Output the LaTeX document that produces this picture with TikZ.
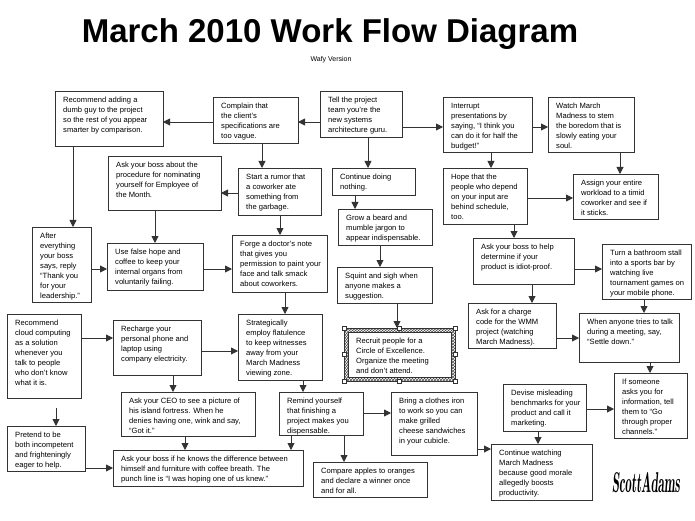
\documentclass[tikz,border=0pt]{standalone}
\usepackage{fontspec}
\setmainfont{Liberation Sans}
\usetikzlibrary{arrows.meta,patterns}
\tikzset{
  box/.style={draw=black!80, line width=0.8pt, fill=white, inner sep=0pt, outer sep=0pt, rectangle},
  txt/.style={anchor=north west, align=left, inner sep=0pt, font=\fontsize{7.6}{10}\selectfont},
  arr/.style={draw=black!80, line width=0.9pt, -{Triangle[length=7pt,width=7pt]}},
  handle/.style={fill=white, draw=black!80, line width=0.4pt}
}
\newcommand\bx[6]{%
  \node[box, minimum width=#4pt, minimum height=#5pt, anchor=north west] (#1) at (#2,#3) {};
  \node[txt] (#1t) at ([xshift=8pt,yshift=-6pt]#1.north west) {#6};}
\begin{document}
\begin{tikzpicture}[x=1pt,y=-1pt]
\fill[white] (0,0) rectangle (695,521);
\useasboundingbox (0,0) rectangle (695,521);
\node[anchor=base, font=\fontsize{33}{40}\selectfont\bfseries] (title) at (330,43) {March 2010 Work Flow Diagram};
\node[anchor=base, font=\fontsize{7}{8}\selectfont] (sub) at (331,62) {Wafy Version};
% row 1
\bx{A}{55}{91}{108}{55}{Recommend adding a\\dumb guy to the project\\so the rest of you appear\\smarter by comparison.}
\bx{C}{213}{97}{85}{46}{Complain that\\the client’s\\specifications are\\too vague.}
\bx{D}{320}{91}{82}{46}{Tell the project\\team you’re the\\new systems\\architecture guru.}
\bx{H}{443}{97}{89}{55}{Interrupt\\presentations by\\saying, “I think you\\can do it for half the\\budget!”}
\bx{I}{548}{97}{86}{55}{Watch March\\Madness to stem\\the boredom that is\\slowly eating your\\soul.}
% row 2
\bx{B}{108}{156}{113}{54}{Ask your boss about the\\procedure for nominating\\yourself for Employee of\\the Month.}
\bx{E}{238}{168}{83}{47}{Start a rumor that\\a coworker ate\\something from\\the garbage.}
\bx{F}{332}{168}{83}{27}{Continue doing\\nothing.}
\bx{G}{338}{209}{94}{36}{Grow a beard and\\mumble jargon to\\appear indispensable.}
\bx{J}{443}{168}{84}{56}{Hope that the\\people who depend\\on your input are\\behind schedule,\\too.}
\bx{K}{573}{174}{85}{45}{Assign your entire\\workload to a timid\\coworker and see if\\it sticks.}
% row 3
\bx{L}{32}{227}{59}{75}{After\\everything\\your boss\\says, reply\\“Thank you\\for your\\leadership.”}
\bx{M}{107}{243}{96}{47}{Use false hope and\\coffee to keep your\\internal organs from\\voluntarily failing.}
\bx{P}{232}{235}{95}{57}{Forge a doctor’s note\\that gives you\\permission to paint your\\face and talk smack\\about coworkers.}
\bx{Q}{337}{267}{95}{36}{Squint and sigh when\\anyone makes a\\suggestion.}
\bx{T}{473}{238}{101}{46}{Ask your boss to help\\determine if your\\product is idiot-proof.}
\bx{U}{602}{244}{89}{55}{Turn a bathroom stall\\into a sports bar by\\watching live\\tournament games on\\your mobile phone.}
% row 4
\bx{N}{7}{314}{74}{84}{Recommend\\cloud computing\\as a solution\\whenever you\\talk to people\\who don’t know\\what it is.}
\bx{O}{113}{320}{88}{55}{Recharge your\\personal phone and\\laptop using\\company electricity.}
\bx{S}{238}{314}{84}{66}{Strategically\\employ flatulence\\to keep witnesses\\away from your\\March Madness\\viewing zone.}
\node[box, draw=none, minimum width=111pt, minimum height=53pt, anchor=north west] (R) at (344,328) {};
\fill[pattern=crosshatch, pattern color=black!70, even odd rule] (R.north west) rectangle (R.south east) ([xshift=4pt,yshift=-4pt]R.north west) rectangle ([xshift=-4pt,yshift=4pt]R.south east);
\draw[black!80, line width=0.5pt] (R.north west) rectangle (R.south east);
\draw[black!80, line width=0.5pt] ([xshift=4pt,yshift=-4pt]R.north west) rectangle ([xshift=-4pt,yshift=4pt]R.south east);
\foreach \a in {north west,north,north east,east,south east,south,south west,west}
  \filldraw[handle] (R.\a) +(-2pt,-2pt) rectangle +(2pt,2pt);
\node[txt] (Rt) at ([xshift=12pt,yshift=-10pt]R.north west) {Recruit people for a\\Circle of Excellence.\\Organize the meeting\\and don’t attend.};
\bx{V}{468}{303}{88}{45}{Ask for a charge\\code for the WMM\\project (watching\\March Madness).}
\bx{W}{579}{313}{100}{49}{When anyone tries to talk\\during a meeting, say,\\“Settle down.”}
% row 5
\bx{X}{614}{373}{73}{65}{If someone\\asks you for\\information, tell\\them to “Go\\through proper\\channels.”}
\bx{EE}{503}{384}{83}{47}{Devise misleading\\benchmarks for your\\product and call it\\marketing.}
\bx{Z}{121}{392}{134}{44}{Ask your CEO to see a picture of\\his island fortress. When he\\denies having one, wink and say,\\“Got it.”}
\bx{BB}{279}{392}{84}{43}{Remind yourself\\that finishing a\\project makes you\\dispensable.}
\bx{CC}{391}{392}{86}{63}{Bring a clothes iron\\to work so you can\\make grilled\\cheese sandwiches\\in your cubicle.}
\bx{Y}{7}{426}{78}{45}{Pretend to be\\both incompetent\\and frighteningly\\eager to help.}
\bx{AA}{113}{450}{190}{36}{Ask your boss if he knows the difference between\\himself and furniture with coffee breath. The\\punch line is “I was hoping one of us knew.”}
\bx{DD}{313}{462}{114}{35}{Compare apples to oranges\\and declare a winner once\\and for all.}
\bx{FF}{491}{444}{101}{56}{Continue watching\\March Madness\\because good morale\\allegedly boosts\\productivity.}
\node (sig) at (646,483) {\resizebox{68pt}{20pt}{\fontfamily{lmr}\fontseries{b}\selectfont\itshape ScottAdams}};
% connectors
\draw[arr] (D.west |- 0,122) -- (C.east |- 0,122);
\draw[arr] (C.west |- 0,122) -- (A.east |- 0,122);
\draw[arr] (D.east |- 0,127) -- (H.west |- 0,127);
\draw[arr] (H.east |- 0,127) -- (I.west |- 0,127);
\draw[arr] (C.south -| 262,0) -- (E.north -| 262,0);
\draw[arr] (E.west |- 0,193) -- (B.east |- 0,193);
\draw[arr] (D.south -| 368,0) -- (F.north -| 368,0);
\draw[arr] (F.south -| 355,0) -- (G.north -| 355,0);
\draw[arr] (H.south -| 491,0) -- (J.north -| 491,0);
\draw[arr] (I.south -| 620,0) -- (K.north -| 620,0);
\draw[arr] (J.east |- 0,198) -- (K.west |- 0,198);
\draw[arr] (A.south -| 73,0) -- (L.north -| 73,0);
\draw[arr] (B.south -| 155,0) -- (M.north -| 155,0);
\draw[arr] (L.east |- 0,269) -- (M.west |- 0,269);
\draw[arr] (M.east |- 0,269) -- (P.west |- 0,269);
\draw[arr] (E.south -| 280,0) -- (P.north -| 280,0);
\draw[arr] (G.south -| 380,0) -- (Q.north -| 380,0);
\draw[arr] (J.south -| 514,0) -- (T.north -| 514,0);
\draw[arr] (T.east |- 0,269) -- (U.west |- 0,269);
\draw[arr] (Q.south -| 397,0) -- (R.north -| 397,0);
\draw[arr] (P.south -| 285,0) -- (S.north -| 285,0);
\draw[arr] (N.east |- 0,338) -- (O.west |- 0,338);
\draw[arr] (O.east |- 0,351) -- (S.west |- 0,351);
\draw[arr] (T.south -| 532,0) -- (V.north -| 532,0);
\draw[arr] (U.south -| 644,0) -- (W.north -| 644,0);
\draw[arr] (V.east |- 0,338) -- (W.west |- 0,338);
\draw[arr] (W.south -| 650,0) -- (X.north -| 650,0);
\draw[arr] (O.south -| 173,0) -- (Z.north -| 173,0);
\draw[arr] (S.south -| 303,0) -- (BB.north -| 303,0);
\draw[arr, shorten <=10pt] (N.south -| 56,0) -- (Y.north -| 56,0);
\draw[arr] (Y.east |- 0,468) -- (AA.west |- 0,468);
\draw[arr] (Z.south -| 185,0) -- (AA.north -| 185,0);
\draw[arr] (BB.south -| 291,0) -- (AA.north -| 291,0);
\draw[arr] (BB.east |- 0,413) -- (CC.west |- 0,413);
\draw[arr] (BB.south -| 344,0) -- (DD.north -| 344,0);
\draw[arr] (EE.east |- 0,409) -- (X.west |- 0,409);
\draw[arr] (EE.south -| 538,0) -- (FF.north -| 538,0);
\draw[arr] (CC.east |- 0,449) -- (FF.west |- 0,449);
\end{tikzpicture}
\end{document}
